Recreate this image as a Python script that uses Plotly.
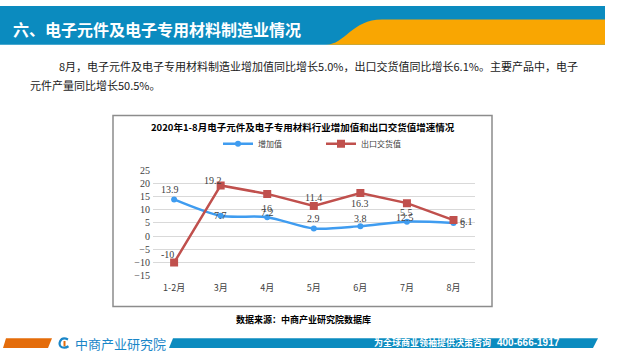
import plotly.graph_objects as go

# ---- data ----
categories = ["1-2月", "3月", "4月", "5月", "6月", "7月", "8月"]
added_value = [13.9, 7.7, 7.2, 2.9, 3.8, 5.5, 5.0]          # 增加值
export_value = [-10, 19.2, 16, 11.4, 16.3, 12.5, 6.1]       # 出口交货值
y_ticks = [-15, -10, -5, 0, 5, 10, 15, 20, 25]

# label offsets (styling only): (xshift, yshift) in px
blue_label_shift = [(-4, 10), (0, 0), (0, 5), (0, 10), (0, 8), (0, 9), (9, -2)]
red_label_shift = [(-7, 8), (-8, 5), (0, -15), (0, 9), (0, -10), (-2, -14), (13, -1)]

W, H = 640, 360
def px(x):
    return x / W
def py(y):
    return 1 - y / H

BLUE = "#3f9cf0"
RED = "#c0504d"
CJK = "Noto Sans CJK SC"
SERIF = "Liberation Serif"

fig = go.Figure()
fig.add_trace(go.Scatter(
    x=categories, y=added_value, name="增加值", mode="lines+markers",
    line=dict(color=BLUE, width=2.5, shape="spline", smoothing=0.8),
    marker=dict(symbol="circle", size=6, color=BLUE),
))
fig.add_trace(go.Scatter(
    x=categories, y=export_value, name="出口交货值", mode="lines+markers",
    line=dict(color=RED, width=2.5),
    marker=dict(symbol="square", size=8, color=RED),
))

def fmt(v):
    return f"{v:g}"

annotations = []
for c, v, (dx, dy) in zip(categories, added_value, blue_label_shift):
    annotations.append(dict(x=c, y=v, xref="x", yref="y", text=fmt(v), showarrow=False,
                            xshift=dx, yshift=dy, font=dict(family=SERIF, size=10, color="#404040")))
for c, v, (dx, dy) in zip(categories, export_value, red_label_shift):
    annotations.append(dict(x=c, y=v, xref="x", yref="y", text=fmt(v), showarrow=False,
                            xshift=dx, yshift=dy, font=dict(family=SERIF, size=10, color="#404040")))

def note(x, y, text, size, color="#000", family=CJK, xanchor="center"):
    annotations.append(dict(x=px(x), y=py(y), xref="paper", yref="paper", text=text,
                            showarrow=False, xanchor=xanchor, yanchor="middle",
                            font=dict(family=family, size=size, color=color)))

# header title
note(11, 24, "<b>六、电子元件及电子专用材料制造业情况</b>", 16, "#ffffff", xanchor="left")
# paragraph
note(57, 62, "8月，电子元件及电子专用材料制造业增加值同比增长5.0%，出口交货值同比增长6.1%。主要产品中，电子", 11, "#1a1a1a", xanchor="left")
note(28, 81, "元件产量同比增长50.5%。", 11, "#1a1a1a", xanchor="left")
# chart title
note(303, 125, "<b>2020年1-8月电子元件及电子专用材料行业增加值和出口交货值增速情况</b>", 9.5, "#000")
# source
note(303, 323, "<b>数据来源：中商产业研究院数据库</b>", 9, "#000")
# footer
note(73, 348, "中商产业研究院", 13, "#1a86c8", xanchor="left")
note(372, 347.5, "<b>为全球商业领袖提供决策咨询</b>", 9, "#ffffff", xanchor="left")
note(495, 347.5, "<b>400-666-1917</b>", 10, "#ffffff", family="Liberation Sans", xanchor="left")

shapes = [
    # header
    dict(type="rect", xref="paper", yref="paper", x0=px(0), x1=px(605), y0=py(40), y1=py(0),
         fillcolor="#0b8bbf", line=dict(width=0), layer="below"),
    dict(type="path", xref="paper", yref="paper",
         path=f"M {px(326)} {py(40)} C {px(345)} {py(40)}, {px(352)} {py(14)}, {px(382)} {py(14)} "
              f"L {px(605)} {py(14)} L {px(605)} {py(40)} Z",
         fillcolor="#f9a602", line=dict(width=0), layer="below"),
    # chart frame
    dict(type="rect", xref="paper", yref="paper", x0=px(113), x1=px(492), y0=py(310), y1=py(113),
         line=dict(color="#8c8c8c", width=1.5), fillcolor="rgba(0,0,0,0)"),
    # footer orange
    dict(type="path", xref="paper", yref="paper",
         path=f"M {px(3)} {py(352.7)} L {px(6)} {py(342.7)} L {px(52)} {py(342.7)} L {px(48)} {py(352.7)} Z",
         fillcolor="#e46c0a", line=dict(width=0)),
    # footer blue
    dict(type="path", xref="paper", yref="paper",
         path=f"M {px(169)} {py(352.7)} L {px(173)} {py(342.7)} L {px(598)} {py(342.7)} L {px(593)} {py(352.7)} Z",
         fillcolor="#0b8bbf", line=dict(width=0)),
    # logo icon
    dict(type="path", xref="paper", yref="paper",
         path=f"M {px(68)} {py(344)} C {px(60)} {py(340)}, {px(57)} {py(350)}, {px(62)} {py(352)} "
              f"C {px(65)} {py(353)}, {px(67)} {py(352)}, {px(68.5)} {py(351)}",
         line=dict(color="#1a86c8", width=2.2)),
    dict(type="rect", xref="paper", yref="paper", x0=px(63.5), x1=px(65.5), y0=py(351), y1=py(345.5),
         fillcolor="#e46c0a", line=dict(width=0)),
]

fig.update_layout(
    width=W, height=H, autosize=False,
    margin=dict(l=0, r=0, t=0, b=0),
    paper_bgcolor="#ffffff", plot_bgcolor="#ffffff",
    showlegend=True,
    legend=dict(orientation="h", x=px(218), y=py(142), xanchor="left", yanchor="middle",
                font=dict(family=CJK, size=8, color="#404040"), itemwidth=30,
                bgcolor="rgba(0,0,0,0)", entrywidth=58),
    xaxis=dict(domain=[px(153), px(475)], showgrid=False, showline=False, ticks="",
               tickfont=dict(family=CJK, size=9, color="#404040"), zeroline=False,
               ticklabelstandoff=5, fixedrange=True),
    yaxis=dict(domain=[py(278.3), py(169.3)], range=[-15, 25], tickvals=y_ticks,
               showgrid=True, gridcolor="#d9d9d9", gridwidth=1, zeroline=True,
               zerolinecolor="#d9d9d9", zerolinewidth=1, showline=False, ticks="",
               tickfont=dict(family=SERIF, size=10, color="#404040"), ticklabelstandoff=2),
    annotations=annotations,
    shapes=shapes,
)

fig.write_html("out.html", config={"displayModeBar": False},
               post_script="document.body.style.margin='0';")
